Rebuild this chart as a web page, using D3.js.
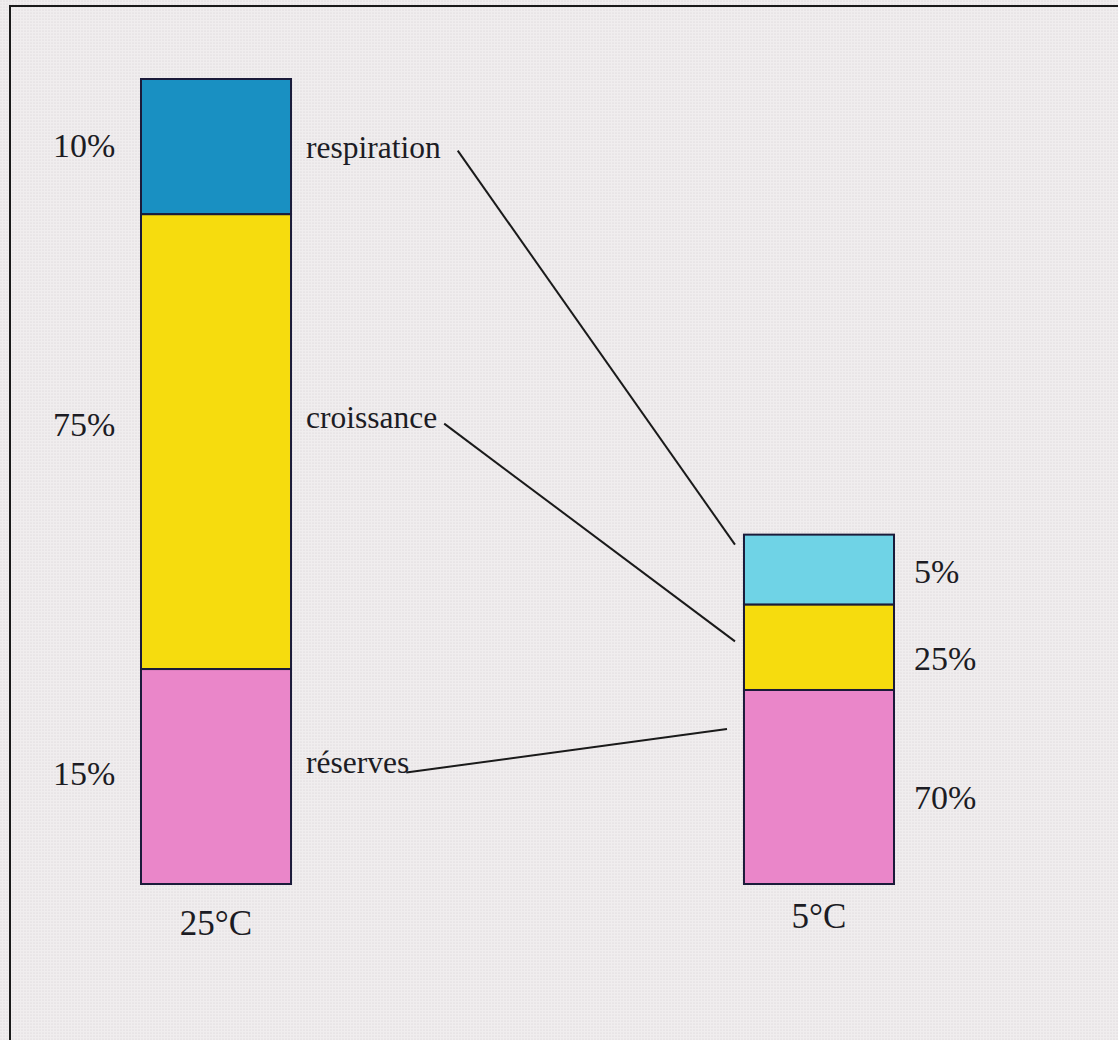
<!DOCTYPE html>
<html>
<head>
<meta charset="utf-8">
<script src="https://cdn.jsdelivr.net/npm/d3@7"></script>
<style>
  html, body { margin: 0; padding: 0; background: #f1eeef; }
  svg { display: block; }
  text { font-family: "Liberation Serif", "Times New Roman", serif; fill: #1c1c24; }
</style>
</head>
<body>
<svg id="chart" width="1118" height="1040"></svg>
<script>
// Data
const temperatures = ["25°C", "5°C"];
const postes = ["respiration", "croissance", "réserves"];
// percentages printed beside each segment
const labels25 = ["10%", "75%", "15%"];
const labels5 = ["5%", "25%", "70%"];
// segment sizes as drawn in the figure (not to scale with the printed %), left bar total = 100
const drawn25 = [16.8, 56.5, 26.7];
const drawn5 = [8.7, 10.6, 24.1];

const colors25 = ["#1990c2", "#f6dc0e", "#ea86c9"];
const colors5 = ["#6fd3e6", "#f6dc0e", "#ea86c9"];

const svg = d3.select("#chart");

// halftone-ish paper background
const defs = svg.append("defs");
const pat = defs.append("pattern")
  .attr("id", "dots").attr("width", 3).attr("height", 3)
  .attr("patternUnits", "userSpaceOnUse");
pat.append("rect").attr("width", 3).attr("height", 3).attr("fill", "#f0edee");
pat.append("circle").attr("cx", 1).attr("cy", 1).attr("r", 0.6).attr("fill", "#d2ced0");
svg.append("rect").attr("width", 1118).attr("height", 1040).attr("fill", "url(#dots)");

// frame (only top and left edges are in view)
svg.append("path")
  .attr("d", "M10,1040 L10,6 L1118,6")
  .attr("fill", "none").attr("stroke", "#1a1a1a").attr("stroke-width", 2);

// scales
const x = d3.scaleBand()
  .domain(temperatures)
  .range([141, 894])
  .paddingInner(0.7512)
  .paddingOuter(0);

const y = d3.scaleLinear()
  .domain([0, 100])
  .range([884, 79]);

const bars = [
  { temp: temperatures[0], vals: drawn25, labels: labels25, colors: colors25 },
  { temp: temperatures[1], vals: drawn5, labels: labels5, colors: colors5 }
];

bars.forEach(b => {
  let acc = 0;
  // stack from bottom: réserves, croissance, respiration
  b.segs = postes.map((p, i) => ({ poste: p, v: b.vals[i], label: b.labels[i], color: b.colors[i] }));
  for (let i = b.segs.length - 1; i >= 0; i--) {
    b.segs[i].y0 = acc;
    acc += b.segs[i].v;
    b.segs[i].y1 = acc;
  }
  b.total = acc;
});

const g = svg.append("g");

bars.forEach((b, bi) => {
  const bx = x(b.temp);
  const bw = x.bandwidth();
  g.selectAll(null)
    .data(b.segs)
    .enter().append("rect")
    .attr("x", bx)
    .attr("y", d => y(d.y1))
    .attr("width", bw)
    .attr("height", d => y(d.y0) - y(d.y1))
    .attr("fill", d => d.color)
    .attr("stroke", "#1b1b3a")
    .attr("stroke-width", 2);

  // percentage labels
  const nudge = bi === 0 ? [10, -6, 8] : [13, 23, 22];
  g.selectAll(null)
    .data(b.segs)
    .enter().append("text")
    .attr("x", bi === 0 ? 53 : bx + bw + 20)
    .attr("y", (d, i) => (y(d.y0) + y(d.y1)) / 2 + nudge[i])
    .attr("font-size", 34)
    .text(d => d.label);

  // temperature label
  g.append("text")
    .attr("x", bx + bw / 2)
    .attr("y", y(0) + (bi === 0 ? 51 : 44))
    .attr("text-anchor", "middle")
    .attr("font-size", 35)
    .text(b.temp);
});

// poste names next to the left bar + leader lines to the right bar
const left = bars[0], right = bars[1];
const nameX = x(left.temp) + x.bandwidth() + 13;
const nameNudge = [11, -14, -4];
const endPts = [
  d => [x(right.temp) - 9, y(right.total) + 10],
  d => [x(right.temp) - 9, (y(d.y0) + y(d.y1)) / 2 - 6],
  d => [x(right.temp) - 17, y(d.y1) + 39]
];
const startGap = [17, 7, -3];
const startDy = [-7, -4, 0];

left.segs.forEach((d, i) => {
  const ty = (y(d.y0) + y(d.y1)) / 2 + nameNudge[i];
  const t = g.append("text")
    .attr("x", nameX + 2)
    .attr("y", ty)
    .attr("font-size", 31.5)
    .text(d.poste);
  const w = t.node().getComputedTextLength();
  const [ex, ey] = endPts[i](right.segs[i]);
  g.append("line")
    .attr("x1", nameX + 2 + w + startGap[i])
    .attr("y1", ty + startDy[i])
    .attr("x2", ex)
    .attr("y2", ey)
    .attr("stroke", "#1a1a1a")
    .attr("stroke-width", 2);
});
</script>
</body>
</html>
